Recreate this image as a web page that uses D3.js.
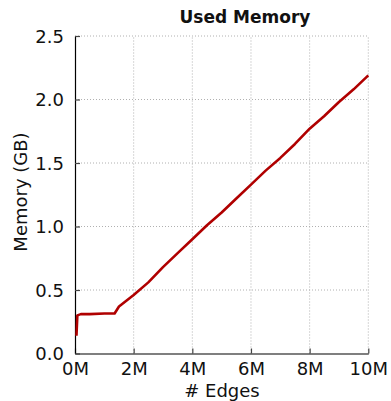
<!DOCTYPE html>
<html><head><meta charset="utf-8">
<script src="https://cdn.jsdelivr.net/npm/d3@7"></script>
<style>body{margin:0;background:#fff}svg{display:block}text{font-family:"DejaVu Sans",sans-serif;fill:#111}</style>
</head><body><svg id="c" width="391" height="401"></svg>
<script>
const edgesM = [0.05,0.08,0.2,0.5,1.0,1.35,1.5,2.0,2.5,3.0,3.5,4.0,4.5,5.0,5.5,6.0,6.5,7.0,7.5,8.0,8.5,9.0,9.5,10.0];
const memoryGB = [0.14,0.30,0.31,0.31,0.315,0.315,0.37,0.46,0.56,0.68,0.79,0.90,1.01,1.11,1.22,1.33,1.44,1.54,1.65,1.77,1.87,1.98,2.08,2.19];
const xTicks = [0,2,4,6,8,10];
const xTickLabels = ["0M","2M","4M","6M","8M","10M"];
const yTicks = [0,0.5,1.0,1.5,2.0,2.5];
const yTickLabels = ["0.0","0.5","1.0","1.5","2.0","2.5"];

const svg = d3.select("#c");
const L=75,R=368.3,T=36,B=353.5;
const x = d3.scaleLinear().domain([0,10]).range([L,R]);
const y = d3.scaleLinear().domain([0,2.5]).range([B,T]);

const g = svg.append("g");
g.selectAll(".gx").data(xTicks.slice(1)).join("line")
  .attr("x1",d=>x(d)).attr("x2",d=>x(d)).attr("y1",B).attr("y2",T)
  .attr("stroke","#b0b0b0").attr("stroke-width",1).attr("stroke-dasharray","1,2");
g.selectAll(".gy").data(yTicks.slice(1)).join("line")
  .attr("x1",L).attr("x2",R).attr("y1",d=>y(d)).attr("y2",d=>y(d))
  .attr("stroke","#b0b0b0").attr("stroke-width",1).attr("stroke-dasharray","1,2");

const xAxis = d3.axisBottom(x).tickValues(xTicks).tickFormat((d,i)=>xTickLabels[i]).tickSizeInner(-5).tickSizeOuter(0).tickPadding(9);
const yAxis = d3.axisLeft(y).tickValues(yTicks).tickFormat((d,i)=>yTickLabels[i]).tickSizeInner(-5).tickSizeOuter(0).tickPadding(11);
const gx = svg.append("g").attr("transform",`translate(0,${B})`).call(xAxis);
const gy = svg.append("g").attr("transform",`translate(${L},0)`).call(yAxis);
[gx,gy].forEach(a=>{
  a.select(".domain").attr("stroke","#000").attr("stroke-width",1.2);
  a.selectAll(".tick line").attr("stroke","#444").attr("stroke-width",1.2);
  a.selectAll(".tick text").style("font-size","18px").style("font-family","'DejaVu Sans',sans-serif").attr("fill","#111");
});
gx.selectAll(".tick text").attr("dy","0.71em");
gy.selectAll(".tick text").attr("dy","0.36em");

const line = d3.line().x((d,i)=>x(edgesM[i])).y((d,i)=>y(memoryGB[i]));
svg.append("path").datum(memoryGB).attr("d",line).attr("fill","none")
  .attr("stroke","#b00000").attr("stroke-width",2.6).attr("stroke-linejoin","round");

svg.append("text").attr("x",245).attr("y",23).attr("text-anchor","middle")
  .style("font-size","17px").style("font-weight","bold").text("Used Memory");
svg.append("text").attr("x",222).attr("y",397).attr("text-anchor","middle")
  .style("font-size","18px").text("# Edges");
svg.append("text").attr("transform",`translate(27,192) rotate(-90)`).attr("text-anchor","middle")
  .style("font-size","18px").text("Memory (GB)");
</script></body></html>
